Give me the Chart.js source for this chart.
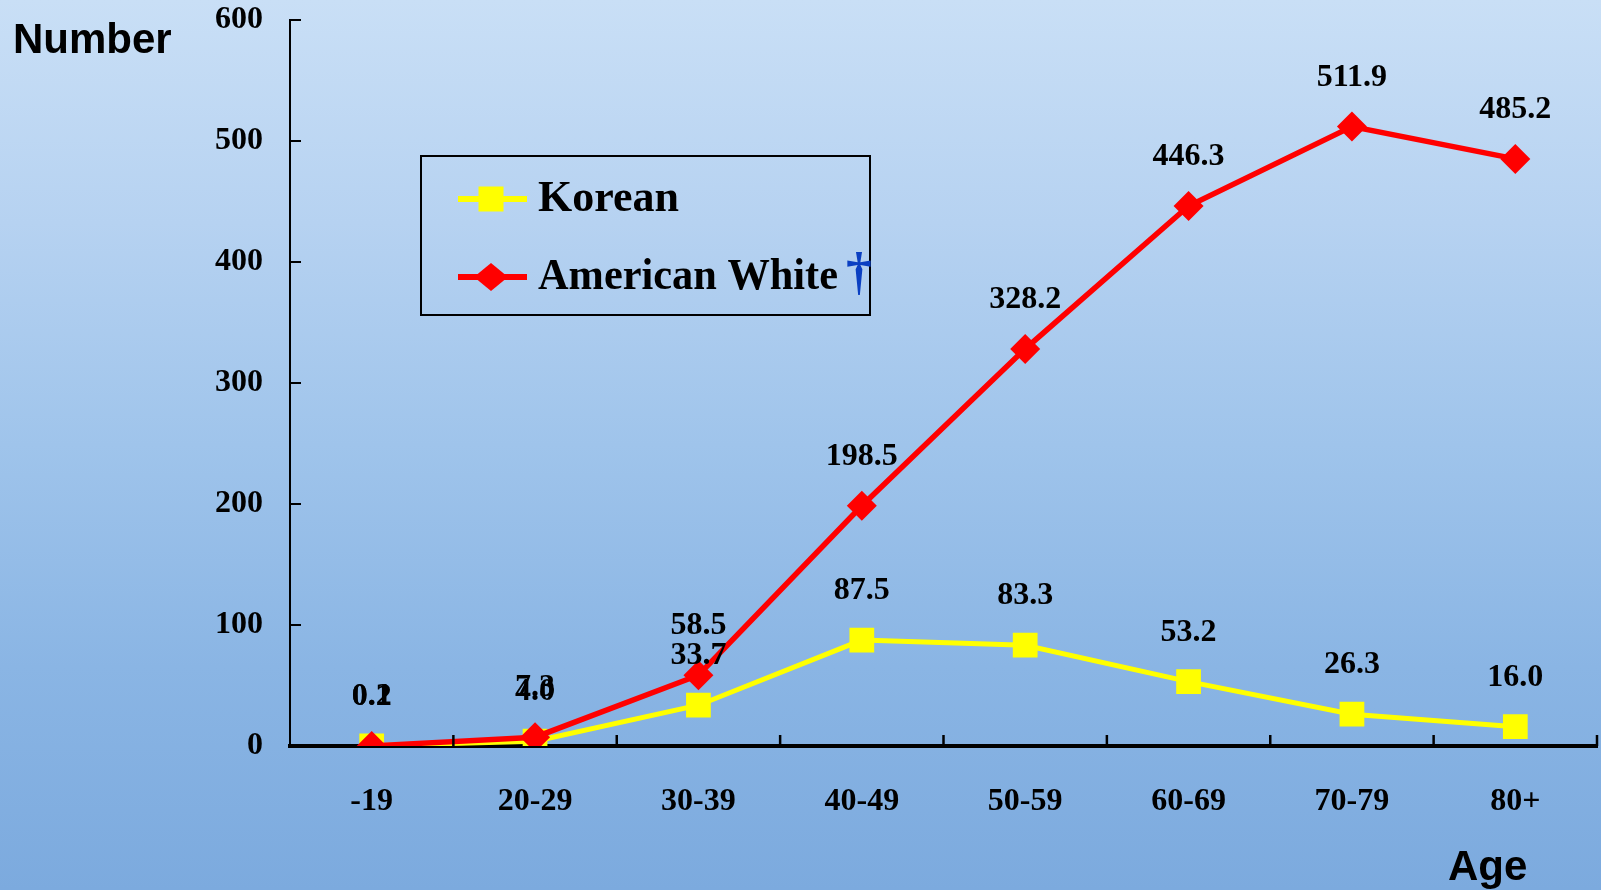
<!DOCTYPE html>
<html><head><meta charset="utf-8">
<script src="https://cdn.jsdelivr.net/npm/chart.js@4.4.0/dist/chart.umd.min.js"></script>
<style>
html,body{margin:0;padding:0;width:1601px;height:890px;overflow:hidden;}
body{background:linear-gradient(180deg,#c9dff6 0%,#b6d2f1 25%,#9fc4eb 50%,#8ab5e4 75%,#7caade 100%);}
canvas{display:block;}
</style></head><body>
<canvas id="c" width="1601" height="890"></canvas>
<script>
const categories = ['-19','20-29','30-39','40-49','50-59','60-69','70-79','80+'];
const koreanValues = [0.2, 4.0, 33.7, 87.5, 83.3, 53.2, 26.3, 16.0];
const americanWhiteValues = [0.1, 7.3, 58.5, 198.5, 328.2, 446.3, 511.9, 485.2];
const yTicks = [0, 100, 200, 300, 400, 500, 600];
const seriesNames = ['Korean', 'American White'];
const yTitle = 'Number';
const xTitle = 'Age';
const dagger = '†';

const serif = '"Liberation Serif","Times New Roman",serif';
const sans = '"Liberation Sans",Arial,sans-serif';

function seg(ctx, x1, y1, x2, y2){ ctx.beginPath(); ctx.moveTo(x1,y1); ctx.lineTo(x2,y2); ctx.stroke(); }

const decor = {
  id: 'decor',
  afterDatasetsDraw(chart){
    const ctx = chart.ctx;
    ctx.save();
    ctx.fillStyle = '#000';
    ctx.font = 'bold 32px ' + serif;
    ctx.textAlign = 'center';
    ctx.textBaseline = 'middle';
    chart.data.datasets.forEach((ds, di) => {
      const meta = chart.getDatasetMeta(di);
      meta.data.forEach((pt, i) => {
        ctx.fillText(ds.data[i].toFixed(1), pt.x, pt.y - 49);
      });
    });
    ctx.restore();
  },
  afterDraw(chart){
    const ctx = chart.ctx, xs = chart.scales.x, ys = chart.scales.y;
    ctx.save();
    ctx.strokeStyle = '#000';
    // x tick marks (inside, at category boundaries)
    ctx.lineWidth = 2.5;
    const n = categories.length;
    for (let i = 1; i <= n; i++) {
      const px = xs.left + i * (xs.right - xs.left) / n;
      seg(ctx, px, ys.bottom, px, ys.bottom - 11);
    }
    // y tick marks (inside)
    ctx.lineWidth = 2;
    yTicks.forEach(v => { const py = ys.getPixelForValue(v); seg(ctx, xs.left, py, xs.left + 11, py); });

    // axis titles
    ctx.fillStyle = '#000';
    ctx.font = 'bold 42px ' + sans;
    ctx.textAlign = 'left';
    ctx.textBaseline = 'alphabetic';
    ctx.fillText(yTitle, 13, 53);
    ctx.fillText(xTitle, 1448, 880);

    // legend
    const bx = 421, by = 156, bw = 449, bh = 159;
    ctx.strokeStyle = '#000';
    ctx.lineWidth = 2;
    ctx.strokeRect(bx, by, bw, bh);
    const rows = [199, 277];
    const maxW = [145, 300];
    chart.data.datasets.forEach((ds, di) => {
      const cy = rows[di];
      ctx.strokeStyle = ds.borderColor;
      ctx.lineWidth = 6;
      seg(ctx, 458, cy, 527, cy);
      ctx.fillStyle = ds.backgroundColor;
      ctx.beginPath();
      if (ds.pointStyle === 'rect') {
        ctx.rect(491 - 12.5, cy - 12.5, 25, 25);
      } else {
        ctx.moveTo(491, cy - 14); ctx.lineTo(508, cy); ctx.lineTo(491, cy + 14); ctx.lineTo(474, cy);
        ctx.closePath();
      }
      ctx.fill();
      ctx.fillStyle = '#000';
      ctx.font = 'bold 44px ' + serif;
      ctx.textBaseline = 'middle';
      ctx.fillText(ds.label, 538, cy + 1, maxW[di]);
      if (di === 1) {
        ctx.fillStyle = '#0a3fc2';
        ctx.font = 'bold 52px ' + serif;
        ctx.fillText(dagger, 538 + maxW[di] + 8, cy - 1);
      }
    });
    ctx.restore();
  }
};

new Chart(document.getElementById('c'), {
  type: 'line',
  data: {
    labels: categories,
    datasets: [
      {
        label: seriesNames[0], data: koreanValues,
        borderColor: '#ffff00', backgroundColor: '#ffff00',
        borderWidth: 5, pointStyle: 'rect', pointRadius: 17.5,
        pointBorderWidth: 0, pointBackgroundColor: '#ffff00', order: 1, tension: 0
      },
      {
        label: seriesNames[1], data: americanWhiteValues,
        borderColor: '#ff0000', backgroundColor: '#ff0000',
        borderWidth: 5.5, pointStyle: 'rectRot', pointRadius: 15,
        pointBorderWidth: 0, pointBackgroundColor: '#ff0000', order: 0, tension: 0
      }
    ]
  },
  options: {
    responsive: false,
    animation: false,
    events: [],
    layout: { autoPadding: false, padding: { top: 20, right: 4, left: 0, bottom: 0 } },
    plugins: { legend: { display: false }, tooltip: { enabled: false }, title: { display: false } },
    scales: {
      x: {
        type: 'category', offset: true,
        grid: { display: false, drawTicks: false },
        border: { display: true, color: '#000', width: 4 },
        ticks: { color: '#000', font: { family: serif, size: 32, weight: 'bold' }, padding: 37, maxRotation: 0, autoSkip: false },
        afterFit: s => { s.height = 144; s.paddingLeft = 0; s.paddingRight = 0; }
      },
      y: {
        min: 0, max: 600,
        afterBuildTicks: s => { s.ticks = yTicks.map(v => ({ value: v })); },
        grid: { display: false, drawTicks: false },
        border: { display: true, color: '#000', width: 2 },
        ticks: { color: '#000', font: { family: serif, size: 32, weight: 'bold' }, padding: 27 },
        afterFit: s => { s.width = 290; s.paddingTop = 0; s.paddingBottom = 0; }
      }
    }
  },
  plugins: [decor]
});
</script>
</body></html>
